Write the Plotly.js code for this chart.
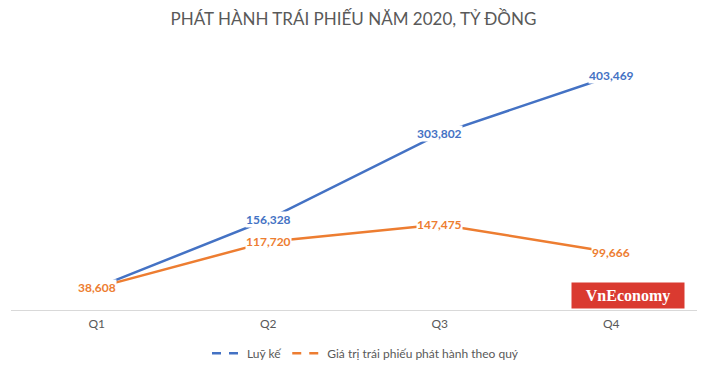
<!DOCTYPE html>
<html>
<head>
<meta charset="utf-8">
<script src="https://cdn.plot.ly/plotly-3.0.1.min.js"></script>
<style>html,body{margin:0;padding:0;background:#fff;}#chart{width:707px;height:371px;}</style>
</head>
<body>
<div id="chart"></div>
<script>
const categories = ["Q1", "Q2", "Q3", "Q4"];
const cumulative = [38608, 156328, 303802, 403469];
const quarterly = [38608, 117720, 147475, 99666];
const seriesNames = ["Luỹ kế", "Giá trị trái phiếu phát hành theo quý"];
const titleText = "PHÁT HÀNH TRÁI PHIẾU NĂM 2020, TỶ ĐỒNG";

const blue = "#4472C4", orange = "#ED7D31", gray = "#595959";
const fmt = v => v.toLocaleString("en-US");

const traces = [
  {x: categories, y: cumulative, type: "scatter", mode: "lines", line: {color: blue, width: 2.5}, showlegend: false, hoverinfo: "skip"},
  {x: categories, y: quarterly, type: "scatter", mode: "lines", line: {color: orange, width: 2.5}, showlegend: false, hoverinfo: "skip"},
  {x: [null], y: [null], type: "scatter", mode: "lines", name: seriesNames[0], line: {color: blue, width: 2.5, dash: "9px,8px"}},
  {x: [null], y: [null], type: "scatter", mode: "lines", name: seriesNames[1], line: {color: orange, width: 2.5, dash: "9px,8px"}}
];

const annotations = [];
[[cumulative, blue], [quarterly, orange]].forEach(([vals, col], si) => {
  vals.forEach((v, i) => {
    if (si === 0 && i === 0) return;
    annotations.push({
      x: categories[i], y: v, xref: "x", yref: "y", text: fmt(v), showarrow: false,
      font: {family: "Lato, sans-serif", size: 12, color: col, weight: "bold"},
      bgcolor: "#ffffff", borderpad: 0, xanchor: "center", yanchor: "middle"
    });
  });
});
annotations.push({
  x: 0.982, y: 0, xref: "paper", yref: "paper", xanchor: "right", yanchor: "bottom",
  text: "<b>VnEconomy</b>", showarrow: false, width: 112, height: 25,
  font: {family: "Liberation Serif, serif", size: 16, color: "#ffffff"},
  bgcolor: "#DA3A30", borderpad: 0, yshift: 1
});

const layout = {
  width: 707, height: 371,
  margin: {l: 11, r: 10, t: 49, b: 61},
  paper_bgcolor: "#ffffff", plot_bgcolor: "#ffffff",
  title: {text: titleText, x: 0.5, xanchor: "center", y: 0.95, yanchor: "middle",
          font: {family: "Lato, sans-serif", size: 17, color: gray}},
  xaxis: {type: "category", range: [-0.5, 3.5], showline: true, linecolor: "#d9d9d9", linewidth: 1,
          showgrid: false, zeroline: false, ticks: "", fixedrange: true, automargin: false,
          ticklabelstandoff: 3,
          tickfont: {family: "Lato, sans-serif", size: 12, color: gray}},
  yaxis: {range: [0, 450000], visible: false, showgrid: false, zeroline: false, fixedrange: true, automargin: false},
  showlegend: true,
  legend: {orientation: "h", x: 0.517, xanchor: "center", xref: "container", yref: "container", y: 0.009, yanchor: "bottom",
           font: {family: "Lato, sans-serif", size: 12, color: gray}, itemclick: false,
           tracegroupgap: 0},
  annotations: annotations
};

Plotly.newPlot("chart", traces, layout, {displayModeBar: false, staticPlot: true});
</script>
</body>
</html>
